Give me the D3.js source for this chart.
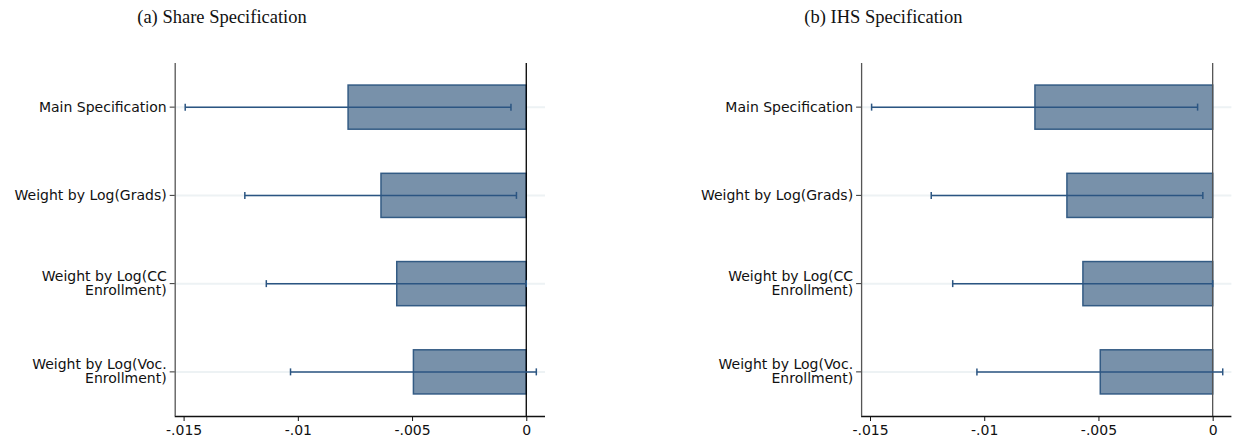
<!DOCTYPE html>
<html>
<head>
<meta charset="utf-8">
<script src="https://cdn.jsdelivr.net/npm/d3@7/dist/d3.min.js"></script>
<style>
  html, body { margin: 0; padding: 0; background: #fff; }
  svg { display: block; }
</style>
</head>
<body>
<svg id="chart" width="1235" height="444"></svg>
<script>
// Coefficient plots: estimate bars with 95% confidence intervals
const categories = [
  "Main Specification",
  "Weight by Log(Grads)",
  "Weight by Log(CC Enrollment)",
  "Weight by Log(Voc. Enrollment)"
];
const categoryLines = [
  ["Main Specification"],
  ["Weight by Log(Grads)"],
  ["Weight by Log(CC", "Enrollment)"],
  ["Weight by Log(Voc.", "Enrollment)"]
];

const shareCoef = [-0.0078, -0.00636, -0.00567, -0.00494];
const shareLow  = [-0.01493, -0.01232, -0.01138, -0.01032];
const shareHigh = [-0.00067, -0.00043, 0.0, 0.00044];

const ihsCoef = [-0.00778, -0.00638, -0.00568, -0.00492];
const ihsLow  = [-0.01493, -0.01232, -0.01138, -0.01032];
const ihsHigh = [-0.00066, -0.00043, 0.0, 0.00044];

const xTicks = [-0.015, -0.01, -0.005, 0];
const xTickLabels = ["-.015", "-.01", "-.005", "0"];
const xDomain = [-0.01539, 0.00082];

const panelTitles = ["(a) Share Specification", "(b) IHS Specification"];

const svg = d3.select("#chart");

function drawPanel(offsetX, title, titleX, coef, low, high, zeroColor) {
  const g = svg.append("g").attr("transform", `translate(${offsetX},0)`);
  const left = 174.7, right = 545, top = 63, bottom = 416;

  const x = d3.scaleLinear().domain(xDomain).range([left, right]);
  const y = d3.scaleBand().domain(categories).range([top, bottom])
    .paddingInner(0.5).paddingOuter(0.25);

  const rows = categories.map((c, i) => ({
    cat: c, lines: categoryLines[i], coef: coef[i], lo: low[i], hi: high[i]
  }));

  // title
  g.append("text")
    .attr("x", titleX).attr("y", 23)
    .attr("text-anchor", "middle")
    .attr("font-family", "'Liberation Serif', 'Times New Roman', serif")
    .attr("font-size", 18.5)
    .attr("fill", "#111")
    .text(title);

  // horizontal gridlines at each category
  g.selectAll("line.grid").data(rows).join("line")
    .attr("class", "grid")
    .attr("x1", left).attr("x2", right)
    .attr("y1", d => y(d.cat) + y.bandwidth() / 2)
    .attr("y2", d => y(d.cat) + y.bandwidth() / 2)
    .attr("stroke", "#edf2f4").attr("stroke-width", 2);

  // bars
  g.selectAll("rect.bar").data(rows).join("rect")
    .attr("class", "bar")
    .attr("x", d => x(Math.min(0, d.coef)))
    .attr("width", d => Math.abs(x(d.coef) - x(0)))
    .attr("y", d => y(d.cat))
    .attr("height", y.bandwidth())
    .attr("fill", "#7891aa")
    .attr("stroke", "#335b84").attr("stroke-width", 1.5);

  // zero reference line
  g.append("line")
    .attr("x1", x(0)).attr("x2", x(0))
    .attr("y1", top).attr("y2", bottom)
    .attr("stroke", zeroColor).attr("stroke-width", 1.3);

  // confidence intervals
  const ci = g.selectAll("g.ci").data(rows).join("g").attr("class", "ci")
    .attr("transform", d => `translate(0,${y(d.cat) + y.bandwidth() / 2})`);
  ci.append("line")
    .attr("x1", d => x(d.lo)).attr("x2", d => x(d.hi))
    .attr("stroke", "#2b5582").attr("stroke-width", 1.5);
  ci.append("line")
    .attr("x1", d => x(d.lo)).attr("x2", d => x(d.lo))
    .attr("y1", -3.5).attr("y2", 3.5)
    .attr("stroke", "#2b5582").attr("stroke-width", 1.5);
  ci.append("line")
    .attr("x1", d => x(d.hi)).attr("x2", d => x(d.hi))
    .attr("y1", -3.5).attr("y2", 3.5)
    .attr("stroke", "#2b5582").attr("stroke-width", 1.5);

  // x axis
  const xAxis = d3.axisBottom(x)
    .tickValues(xTicks)
    .tickFormat((d, i) => xTickLabels[i])
    .tickSize(5).tickPadding(4).tickSizeOuter(0);
  const gx = g.append("g").attr("transform", `translate(0,${bottom})`).call(xAxis);
  gx.select(".domain").attr("stroke", "#111").attr("stroke-width", 1.3)
    .attr("d", `M${left},0.5H${right}`);
  gx.selectAll(".tick line").attr("stroke", "#111");
  gx.selectAll(".tick text")
    .attr("font-family", "'DejaVu Sans', sans-serif")
    .attr("font-size", 14).attr("fill", "#111");

  // y axis
  const yAxis = d3.axisLeft(y).tickSize(5).tickSizeOuter(0).tickFormat("");
  const gy = g.append("g").attr("transform", `translate(${left},0)`).call(yAxis);
  gy.select(".domain").attr("stroke", "#555").attr("stroke-width", 1.3)
    .attr("d", `M0.5,${top}V${bottom}`);
  gy.selectAll(".tick line").attr("stroke", "#333");

  // multi-line category labels
  gy.selectAll(".tick").each(function(cat) {
    const lines = categoryLines[categories.indexOf(cat)];
    const t = d3.select(this).append("text")
      .attr("x", -8)
      .attr("text-anchor", "end")
      .attr("font-family", "'DejaVu Sans', sans-serif")
      .attr("font-size", 14).attr("fill", "#111");
    const startDy = lines.length === 1 ? 4.8 : -2.8;
    lines.forEach((ln, k) => {
      t.append("tspan").attr("x", -8)
        .attr("y", startDy + k * 14)
        .text(ln);
    });
  });
}

drawPanel(0, panelTitles[0], 222, shareCoef, shareLow, shareHigh, "#000");
drawPanel(686.4, panelTitles[1], 197, ihsCoef, ihsLow, ihsHigh, "#555");
</script>
</body>
</html>
